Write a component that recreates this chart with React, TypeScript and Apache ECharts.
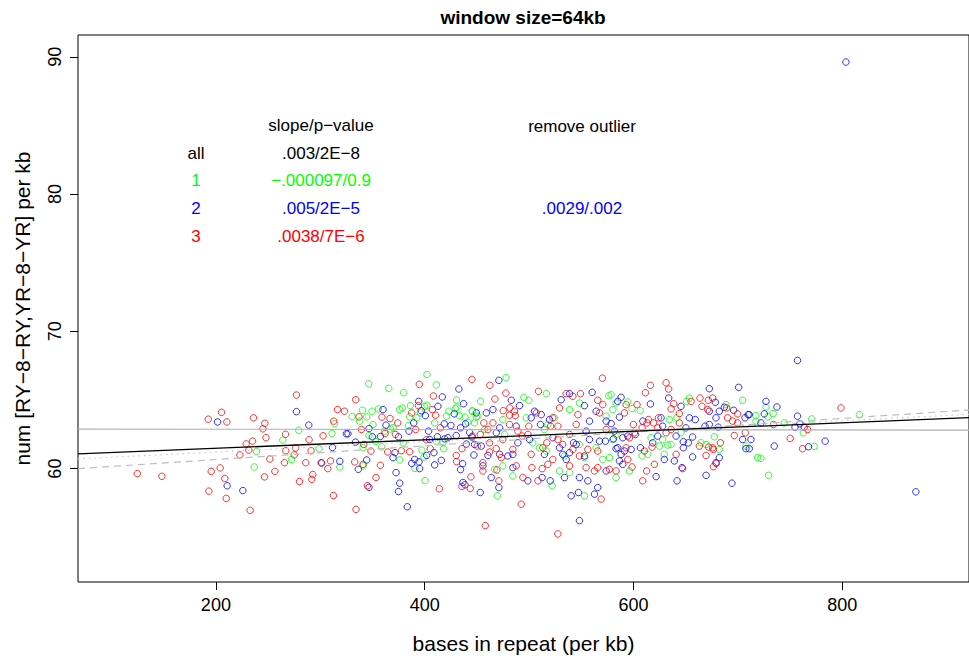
import React, { useEffect, useRef } from "react";
import * as echarts from "echarts";

// ---- axis ranges & ticks ----
const X_MIN = 67.9;
const X_MAX = 921.5;
const Y_MIN = 51.74;
const Y_MAX = 91.59;
const X_TICKS = [200, 400, 600, 800];
const Y_TICKS = [60, 70, 80, 90];

// ---- group 1 (green) ----
const green: [number, number][] = [
  [279.4,62.8],[264.1,62.08],[238.9,61.25],[272.4,60.67],[236.7,60.12],[298.9,61.45],
  [402.2,66.86],[346.4,66.18],[365.6,65.85],[411.2,66.1],[379.9,65.53],[430.6,65.0],[340.4,64.25],[330.5,63.79],
  [344.5,63.77],[349.6,64.18],[355.7,64.35],[337.8,63.46],[350.5,63.21],[313.6,63.28],[311.3,62.56],[346.7,62.41],
  [353.1,61.98],[341,61.52],[358.9,61.59],[367.2,62.88],[369.7,62.97],[376.1,64.3],[378.6,64.42],
  [386.3,64.59],[385.6,63.77],[392.6,63.7],[384.4,63.12],[395.9,64.06],[400,64.54],[402.2,64.62],[409.6,63.33],
  [420.8,63.82],[423.3,64.18],[429.4,64.37],[433.2,63.86],[438.6,63.75],[441.5,63.38],[445.6,64.22],[449.5,63.75],
  [361.7,62.73],[379.6,61.88],[397.4,61.35],[399.4,60.85],[376.1,60.63],[318.7,60.12],[341,60.2],[390.7,60.02],
  [400.3,59.13],[418.2,61.45],[417.6,61.88],[430.9,64.47],[411.2,62.0],
  [478,66.62],[453.6,64.9],[445.6,64.18],[495,65.2],[499.8,64.98],[516.5,65.46],[548.3,64.78],[576.4,65.31],
  [580.3,64.3],[583.4,64.78],[538.8,64.3],[524.4,63.7],[518,63.21],[514.8,62.85],[497.3,63.7],[474.9,63.57],
  [451,63.82],[447.8,63.33],[457.4,62.85],[476.6,62.49],[510,61.52],[503.6,61.88],[516.5,61.28],[529.2,59.83],
  [538.8,59.71],[522.2,58.75],[553.1,58.02],[469.5,58.02],[474.9,60.2],[467,59.95],[570.6,60.67],[577,60.8],
  [583.4,59.35],[553.1,60.8],[548.3,61.76],[564.3,61.52],[573.9,63.82],[583.4,62.49],[484.5,59.47],[534,60.92],
  [578.6,65.38],[594.6,64.86],[598.7,64.37],[606.4,64.22],[653.6,65.14],[651,64.9],[688.7,64.66],[704.6,64.98],
  [717.4,63.86],[717.4,63.46],[641.6,63.7],[634.4,63.57],[616.9,62.25],[624.9,61.64],[632.9,61.72],[636.1,61.76],
  [628,62.12],[629.6,61.04],[613.7,61.04],[608.3,60.92],[596.2,59.83],[580.1,62.12],[664.8,61.88],
  [669.6,61.76],[677.5,62.32],[682.3,61.4],[707.8,61.64],[719,60.8],[645.6,62.61],
  [727,64.49],[733.9,64.01],[728.9,63.77],[744.5,63.33],[770.9,63.62],[816.5,63.93],[762.8,62.61],[773.2,61.62],
  [722.2,60.75],[729.5,59.51],
];

// ---- group 2 (blue) ----
const blue: [number, number][] = [
  [201.6,63.4],[277.2,64.15],[289,63.17],[210.8,58.75],[225.8,58.4],
  [325,62.54],[326.5,62.54],[311.7,61.54],[333.7,61.93],[346.7,62.92],[360.1,64.3],[363,63.17],[357.6,62.34],
  [349.9,62.32],[371.6,61.16],[369.7,60.8],[301.4,60.41],[318.7,60.53],[336.5,59.95],[344.5,60.63],[346.7,58.64],
  [372.6,59.71],[376.1,58.94],[374.9,58.33],[383.4,57.22],[387.6,60.38],[394.6,60.49],[395.2,60.0],[385,62.73],
  [389.5,63.33],[394.3,64.9],[396.8,64.22],[400.7,63.86],[403.8,62.73],[404.8,62.12],[408.9,61.16],[401.9,60.96],
  [409.6,60.27],[416,60.6],[416.9,65.22],[412.7,64.54],[418.8,63.26],[425.2,63.14],[428.4,63.99],[432.8,65.8],
  [437.3,64.73],[434.4,62.97],[439.2,63.26],[443.1,62.63],[439.9,61.79],[447.2,60.99],[434.4,59.93],[436.4,60.36],
  [436.7,58.99],[438.6,58.82],[419.3,62.17],[422.3,62.25],[412.2,62.32],[430.3,62.41],[445.3,62.3],[374.9,62.32],
  [390.4,60.67],
  [471.1,66.43],[483,64.98],[490.9,64.59],[505.3,64.18],[511.7,63.93],[502.1,63.7],[511,63.21],[519.6,63.57],
  [530.8,65.02],[538.8,65.46],[553.1,64.59],[560.5,65.56],[564.3,64.18],[557.9,63.46],[554.7,62.73],[573.9,63.46],
  [578.7,63.28],[580.9,62.17],[573.2,62.0],[583.4,61.45],[557.9,62.12],[545.2,61.76],[538.8,61.16],[542.6,61.88],
  [535.6,60.67],[534,59.35],[548.3,59.35],[556.3,59.11],[573.9,59.83],[565.8,58.62],[562.7,58.14],[547.4,58.26],
  [540.4,58.02],[548.3,56.21],[520.3,59.11],[512.6,59.35],[498.9,59.11],[484.5,60.07],[484.5,61.04],[479.7,60.92],
  [471.8,61.04],[460.6,60.96],[455.8,60.2],[447.8,61.76],[449.5,64.06],[459.1,64.06],[465.4,64.3],[471.8,62.97],
  [468.6,62.61],[454.3,61.64],[463.8,59.35],[471.1,58.62],[453.3,58.26],[487.7,63.09],[489.3,61.88],[500.5,62.12],
  [522.8,62.25],[529.2,61.52],[532.3,61.04],[514.8,61.04],[567.5,62.0],[553.1,60.92],
  [672.7,65.82],[700.8,65.92],[633.8,65.14],[616.3,64.71],[588.2,65.2],[585,64.9],[645.6,64.54],[653.6,63.7],
  [659.3,63.57],[672.7,64.18],[678.5,64.83],[682.3,64.18],[687.1,64.47],[696,64.25],[706.9,63.7],[709.9,63.93],
  [679.1,63.7],[672.7,63.21],[668.6,63.09],[681.2,63.02],[650.3,62.97],[628,63.09],[626.5,63.7],[609,63.46],
  [586.6,63.75],[581.8,62.73],[589.8,62.25],[585,61.52],[588.2,61.04],[591.4,61.28],[597.8,61.4],[606.7,61.52],
  [589.8,60.31],[586.6,60.56],[594.6,62.37],[601.9,62.49],[618.5,61.88],[623.3,62.37],[640.9,62.37],[647.8,61.96],
  [652.6,61.88],[656.7,62.3],[647.8,61.52],[639.2,60.56],[629.6,60.67],[656.7,60.85],[682.3,60.8],[679.1,60.43],
  [704.6,62.12],[712.6,62.12],[707.8,61.45],[621.7,59.42],[641.8,59.11],[669.6,59.51],[694.4,58.94],[646.6,60.07],
  [727,64.9],[737.5,64.49],[725.4,63.99],[711,63.93],[722.2,63.33],[757.2,63.82],[759.5,63.26],[754.8,63.02],
  [763.6,63.02],[711,61.45],[734.9,61.64],[767.8,61.59],[783.7,62.0],[870.6,58.31],[757.2,67.88],[803.6,89.62],
];

// ---- group 3 (red) ----
const red: [number, number][] = [
  [277.2,65.36],[205.4,64.1],[192.7,63.6],[210.5,63.4],[236,63.7],[246.9,63.3],[245,62.9],[248,62.25],[266.7,62.5],
  [289.3,62.1],[235.1,62.0],[229,61.8],[231.6,61.35],[223,61.0],[267,61.3],[276.3,61.5],[275,61.0],[291.2,61.3],
  [251.7,60.7],[265.7,60.43],[286.1,60.43],[124.7,59.64],[148.3,59.44],[195.5,59.8],[204.1,60.05],[208.6,59.28],
  [246.6,59.4],[256.5,59.8],[193.3,58.36],[209.9,57.83],[232.8,56.96],[280.1,59.06],[292.8,59.57],[291.9,59.22],
  [300.8,60.43],
  [334,65.02],[316.5,64.3],[323.2,64.18],[337.1,63.77],[312.9,63.46],[302.7,62.39],[341.7,61.76],[348.6,61.28],
  [359.1,63.75],[366.8,63.65],[374.2,63.33],[362,62.56],[372,62.49],[364.6,61.21],[377.7,61.3],[385.6,61.23],
  [333,60.49],[309.8,60.56],[307.2,60.0],[357.6,60.24],[341,60.31],[353.4,59.35],[345.2,58.75],[312.6,58.04],
  [334.3,57.03],[394.9,66.14],[445.3,66.5],[408.3,65.29],[394,64.59],[387.6,64.06],[407.4,64.3],[415,62.97],
  [410.5,63.89],[391.4,62.85],[401.6,62.1],[430.3,60.96],[430.6,60.51],[435.7,61.45],[444.3,59.4],[443.7,58.55],
  [414.1,58.53],[435.7,58.7],[450.4,61.64],[405.4,61.45],[339.4,62.85],
  [462.5,66.07],[477.8,65.5],[509.1,65.63],[570.3,66.59],[467.3,65.07],[475.3,64.22],[481.6,64.42],[486.1,64.18],
  [481.3,63.89],[486.8,63.86],[465.4,63.33],[456.7,63.33],[460.6,62.85],[445.6,62.37],[453.3,62.49],[468.6,61.45],
  [462.2,61.21],[473.4,60.8],[455.8,60.43],[455.8,59.83],[469.2,59.9],[471.1,59.11],[492.5,57.41],[458.1,55.85],
  [494.1,59.35],[502.7,60.07],[508.5,59.11],[518,60.31],[512.6,60.0],[487.7,60.2],[502.1,61.04],[484.5,61.4],
  [493.5,62.37],[498.9,62.49],[489.3,62.73],[481.3,63.21],[499.8,63.09],[506.9,64.06],[522.8,63.7],[520.6,63.09],
  [527.6,63.09],[527.6,62.12],[532.3,61.76],[538.8,62.49],[542,61.4],[546.8,63.93],[545.2,63.21],[529.2,64.42],
  [535.6,65.46],[542,65.27],[549.3,65.46],[565.8,64.98],[570.6,64.66],[567.5,64.06],[573.9,62.85],[548.3,60.92],
  [556.3,61.4],[565.8,61.28],[562.7,59.83],[565.8,60.07],[577,59.95],[583.4,59.83],[554.7,60.07],[569.1,57.78],
  [527.6,55.24],[522.8,60.67],[538.8,60.2],[513.2,61.52],[517,61.88],[462.2,61.88],[474.9,62.12],
  [616.3,66.07],[631.3,66.25],[633.8,65.8],[611.5,65.53],[638.6,64.73],[636.1,64.35],[644,64.01],[655.2,64.9],
  [663.8,65.14],[671.8,64.98],[675.9,65.14],[665.7,64.54],[671.1,64.3],[689.3,64.42],[699.8,63.99],[690.2,63.7],
  [695,63.46],[699.8,63.33],[707.2,62.61],[696.7,62.41],[683.3,61.88],[675.9,61.52],[672.1,61.57],[663.2,61.64],
  [676.6,61.4],[669.6,60.96],[679.4,60.38],[676.6,60.14],[647.2,60.0],[640.9,61.04],[644,63.33],[636.1,62.85],
  [631.3,62.61],[623.3,62.97],[619.2,63.33],[624,63.7],[613.1,63.33],[608.3,62.97],[614.4,63.57],[600,63.21],
  [601,62.61],[596.2,62.25],[593,61.52],[594.6,60.67],[610.5,61.28],[617.9,61.57],[620.1,60.31],[598.7,60.12],
  [612.7,59.83],[608.9,59.11],[603.5,64.66],[593,64.66],[591.4,64.06],
  [798.8,64.42],[734.2,63.21],[750.2,62.2],[762,61.45],[766.8,62.85],
];

// ---- regression lines: [intercept, slope] ----
const fitAll = [60.86, 0.0031];
const fitGreen = [62.89, -0.000097];
const fitBlue = [59.66, 0.005];
const fitRed = [60.45, 0.0038];

// ---- annotation table ----
const rowLabels = ["all", "1", "2", "3"];
const rowSlopes = [".003/2E−8", "−.000097/0.9", ".005/2E−5", ".0038/7E−6"];
const rowOutlier = ["", "", ".0029/.002", ""];
const rowColors = ["#000000", "#00ff00", "#0000ff", "#ff0000"];

const FONT = "'Liberation Sans', Arial, Helvetica, sans-serif";

function fitLine(fit: number[]) {
  return [
    [X_MIN, fit[0] + fit[1] * X_MIN],
    [X_MAX, fit[0] + fit[1] * X_MAX],
  ];
}

function scatter(name: string, data: [number, number][], color: string) {
  return {
    name,
    type: "scatter",
    data,
    symbol: "circle",
    symbolSize: 6.5,
    itemStyle: { color: "rgba(0,0,0,0)", borderColor: color, borderWidth: 1 },
    silent: true,
    z: 2,
  };
}

function line(data: number[][], color: string, type: any, width = 1) {
  return {
    type: "line",
    data,
    showSymbol: false,
    symbol: "none",
    lineStyle: { color, width, type },
    silent: true,
    z: 3,
  };
}

export default function App() {
  const ref = useRef<HTMLDivElement>(null);
  useEffect(() => {
    if (!ref.current) return;
    const chart = echarts.init(ref.current, undefined, { renderer: "svg" });
    const rowYs = [153, 180, 208, 236];
    const texts: any[] = [
      { type: "text", x: 523, y: 17, style: { text: "window size=64kb", font: `bold 19px ${FONT}`, fill: "#000", textAlign: "center", textVerticalAlign: "middle" } },
      { type: "text", x: 321, y: 125, style: { text: "slope/p−value", font: `17px ${FONT}`, fill: "#000", textAlign: "center", textVerticalAlign: "middle" } },
      { type: "text", x: 582, y: 126, style: { text: "remove outlier", font: `17px ${FONT}`, fill: "#000", textAlign: "center", textVerticalAlign: "middle" } },
    ];
    rowLabels.forEach((lab, i) => {
      texts.push({ type: "text", x: 196, y: rowYs[i], style: { text: lab, font: `17px ${FONT}`, fill: rowColors[i], textAlign: "center", textVerticalAlign: "middle" } });
      texts.push({ type: "text", x: 321, y: rowYs[i], style: { text: rowSlopes[i], font: `17px ${FONT}`, fill: rowColors[i], textAlign: "center", textVerticalAlign: "middle" } });
      if (rowOutlier[i]) {
        texts.push({ type: "text", x: 582, y: rowYs[i], style: { text: rowOutlier[i], font: `17px ${FONT}`, fill: rowColors[i], textAlign: "center", textVerticalAlign: "middle" } });
      }
    });
    chart.setOption({
      animation: false,
      backgroundColor: "#fff",
      textStyle: { fontFamily: FONT },
      grid: { left: 78, top: 35, width: 892, height: 550, show: true, borderColor: "#000", borderWidth: 1, backgroundColor: "transparent" },
      xAxis: {
        type: "value",
        min: X_MIN,
        max: X_MAX,
        axisLine: { show: false },
        splitLine: { show: false },
        axisTick: { show: true, customValues: X_TICKS, length: 8, lineStyle: { color: "#000", width: 1 } },
        axisLabel: { customValues: X_TICKS, color: "#000", fontSize: 18, margin: 14, fontFamily: FONT },
        name: "bases in repeat (per kb)",
        nameLocation: "middle",
        nameGap: 51,
        nameTextStyle: { fontSize: 21, color: "#000", fontFamily: FONT },
      },
      yAxis: {
        type: "value",
        min: Y_MIN,
        max: Y_MAX,
        axisLine: { show: false },
        splitLine: { show: false },
        axisTick: { show: true, customValues: Y_TICKS, length: 8, lineStyle: { color: "#000", width: 1 } },
        axisLabel: { customValues: Y_TICKS, color: "#000", fontSize: 18, margin: 14, rotate: 90, fontFamily: FONT },
        name: "num [RY−8−RY,YR−8−YR] per kb",
        nameLocation: "middle",
        nameRotate: 90,
        nameGap: 45,
        nameTextStyle: { fontSize: 21, color: "#000", fontFamily: FONT },
      },
      graphic: texts,
      series: [
        scatter("1", green, "#00ff00"),
        scatter("2", blue, "#0000ff"),
        scatter("3", red, "#ff0000"),
        line(fitLine(fitGreen), "#b3b3b3", "solid", 1.2),
        line(fitLine(fitRed), "#c8c8c8", [1.5, 4], 1.2),
        line(fitLine(fitBlue), "#bdbdbd", [7, 5], 1.2),
        line(fitLine(fitAll), "#000000", "solid", 1.3),
      ],
    });
    return () => chart.dispose();
  }, []);
  return <div ref={ref} style={{ position: "fixed", left: 0, top: 0, width: 969, height: 659, background: "#fff" }} />;
}
